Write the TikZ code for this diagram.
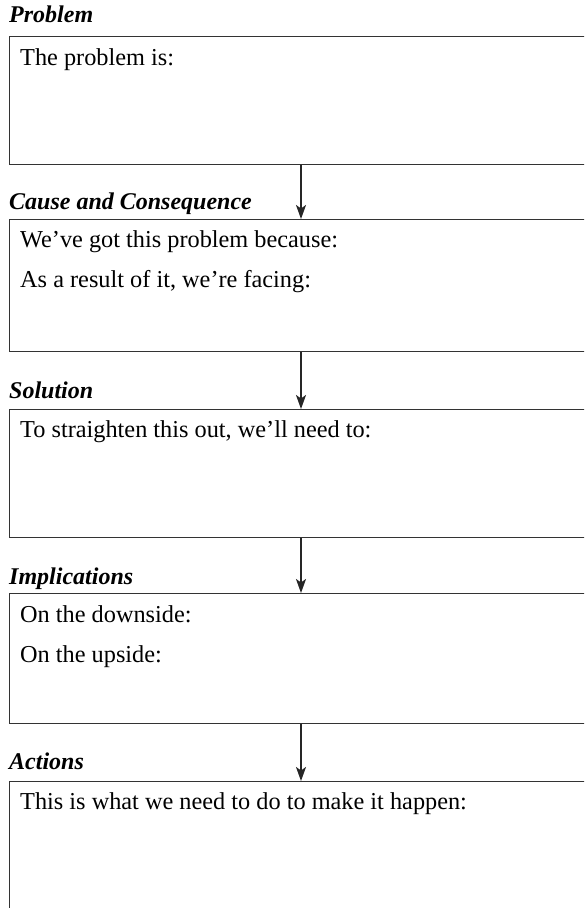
\documentclass[tikz,border=0pt]{standalone}
\usepackage{fontspec}
\setmainfont{Liberation Serif}
\usetikzlibrary{arrows.meta,positioning}
\begin{document}
\begin{tikzpicture}[x=1pt,y=-1pt,
  panel/.style={draw=black!80, line width=1.4pt, rectangle, minimum width=620pt,
                inner sep=0pt, anchor=north west},
  heading/.style={anchor=base west, inner sep=0pt, font=\fontsize{24}{28}\selectfont\bfseries\itshape},
  prompt/.style={anchor=base west, inner sep=0pt, font=\fontsize{24.3}{28}\selectfont},
  flow/.style={draw=black!85, line width=1.8pt, -{Stealth[length=14pt,width=10pt,inset=3.5pt]}}]
\useasboundingbox (0,0) rectangle (584,908);
\clip (0,0) rectangle (584,908);

% panels
\node[panel, minimum height=128pt] (p1) at (8.5,36)  {};
\node[panel, minimum height=132pt] (p2) at (8.5,219) {};
\node[panel, minimum height=128pt] (p3) at (8.5,409) {};
\node[panel, minimum height=130pt] (p4) at (8.5,593) {};
\node[panel, minimum height=160pt] (p5) at (8.5,781) {};

% headings
\node[heading] (h1) at (9,22)  {Problem};
\node[heading] (h2) at (9,209) {Cause and Consequence};
\node[heading] (h3) at (9,398) {Solution};
\node[heading] (h4) at (9,584) {Implications};
\node[heading] (h5) at (9,769) {Actions};

% prompts
\node[prompt] (t1)  at (20,65)  {The problem is:};
\node[prompt] (t2a) at (20,247) {We’ve got this problem because:};
\node[prompt] (t2b) at (20,287) {As a result of it, we’re facing:};
\node[prompt] (t3)  at (20,437) {To straighten this out, we’ll need to:};
\node[prompt] (t4a) at (20,622) {On the downside:};
\node[prompt] (t4b) at (20,662) {On the upside:};
\node[prompt] (t5)  at (20,809) {This is what we need to do to make it happen:};

% connectors
\coordinate (ax) at (301,0);
\draw[flow] (p1.south -| ax) -- (p2.north -| ax);
\draw[flow] (p2.south -| ax) -- (p3.north -| ax);
\draw[flow] (p3.south -| ax) -- (p4.north -| ax);
\draw[flow] (p4.south -| ax) -- (p5.north -| ax);
\end{tikzpicture}
\end{document}
